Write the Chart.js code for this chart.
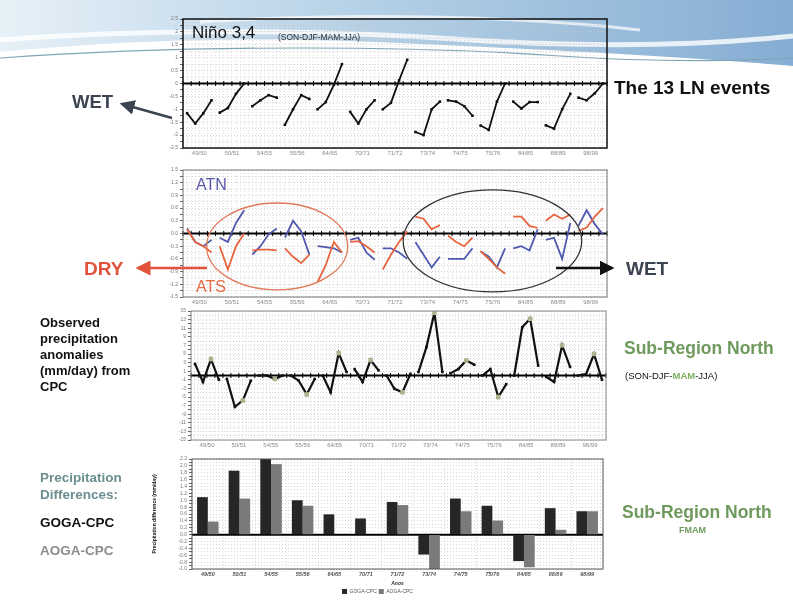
<!DOCTYPE html>
<html>
<head>
<meta charset="utf-8">
<script src="https://cdn.jsdelivr.net/npm/chart.js@4/dist/chart.umd.min.js"></script>
<style>
  body { margin: 0; width: 793px; height: 604px; position: relative; overflow: hidden; background: #fff;
         font-family: "Liberation Sans", Arial, sans-serif; }
  .box { position: absolute; }
  .txt { position: absolute; font-weight: bold; white-space: nowrap; line-height: 1; }
  #banner { position: absolute; left: 0; top: 0; }
  #arrows { position: absolute; left: 0; top: 0; pointer-events: none; }
</style>
</head>
<body>

<!-- decorative slide banner -->
<svg id="banner" width="793" height="90">
  <defs>
    <linearGradient id="bg" x1="0" y1="0" x2="1" y2="0">
      <stop offset="0" stop-color="#e3eef6"/>
      <stop offset="0.45" stop-color="#a9c9e2"/>
      <stop offset="1" stop-color="#6f9fcc"/>
    </linearGradient>
  </defs>
  <path d="M0,0 H793 V66 C700,58 560,50 420,44 C300,38 170,36 0,52 Z" fill="url(#bg)" opacity="0.85"/>
  <path d="M0,40 C150,28 330,30 470,40 C600,48 700,46 793,36" stroke="#fff" stroke-width="5" fill="none" opacity="0.8"/>
  <path d="M200,22 C350,12 520,16 640,30" stroke="#fff" stroke-width="3" fill="none" opacity="0.7"/>
  <path d="M0,58 C200,44 420,46 560,56 C650,62 720,62 793,58" stroke="#7ea6b4" stroke-width="1.2" fill="none"/>
</svg>

<div class="box" style="left:160px;top:14px;width:452px;height:150px"><canvas id="c1"></canvas></div>
<div class="box" style="left:160px;top:165px;width:452px;height:148px"><canvas id="c2"></canvas></div>
<div class="box" style="left:165px;top:305px;width:447px;height:150px"><canvas id="c3"></canvas></div>
<div class="box" style="left:152px;top:452px;width:458px;height:152px"><canvas id="c4"></canvas></div>

<svg id="arrows" width="793" height="604">
  <defs>
    <marker id="hGrey" markerWidth="6" markerHeight="6" refX="5" refY="3" orient="auto"><path d="M0,0 L6,3 L0,6 Z" fill="#3c4452"/></marker>
    <marker id="hRed" markerWidth="6" markerHeight="6" refX="5" refY="3" orient="auto"><path d="M0,0 L6,3 L0,6 Z" fill="#e0533a"/></marker>
    <marker id="hBlack" markerWidth="6" markerHeight="6" refX="5" refY="3" orient="auto"><path d="M0,0 L6,3 L0,6 Z" fill="#111"/></marker>
  </defs>
  <line x1="172" y1="118" x2="122" y2="104" stroke="#3c4452" stroke-width="2.5" marker-end="url(#hGrey)"/>
  <line x1="207" y1="268" x2="138" y2="268" stroke="#e0533a" stroke-width="2.5" marker-end="url(#hRed)"/>
  <line x1="556" y1="268" x2="612" y2="268" stroke="#111" stroke-width="2.5" marker-end="url(#hBlack)"/>
</svg>

<div class="txt" style="left:192px;top:24px;font-size:17px;font-weight:normal;color:#111">Niño 3,4</div>
<div class="txt" style="left:278px;top:33px;font-size:8.5px;font-weight:normal;color:#333">(SON-DJF-MAM-JJA)</div>
<div class="txt" style="left:196px;top:177px;font-size:16px;font-weight:normal;color:#5a5aa8">ATN</div>
<div class="txt" style="left:196px;top:279px;font-size:16px;font-weight:normal;color:#e86a45">ATS</div>

<div class="txt" style="left:72px;top:93px;font-size:18.5px;color:#3c4452">WET</div>
<div class="txt" style="left:84px;top:259px;font-size:19px;color:#e0533a">DRY</div>
<div class="txt" style="left:626px;top:259px;font-size:19px;color:#3c4452">WET</div>
<div class="txt" style="left:614px;top:78px;font-size:19px;color:#111">The 13 LN events</div>

<div class="txt" style="left:40px;top:315px;font-size:13px;line-height:16px;color:#111">Observed<br>precipitation<br>anomalies<br>(mm/day) from<br>CPC</div>
<div class="txt" style="left:40px;top:469px;font-size:13.5px;line-height:17px;color:#6b8f8f">Precipitation<br>Differences:</div>
<div class="txt" style="left:40px;top:516px;font-size:13.5px;color:#111">GOGA-CPC</div>
<div class="txt" style="left:40px;top:544px;font-size:13.5px;color:#8c8c8c">AOGA-CPC</div>

<div class="txt" style="left:624px;top:340px;font-size:17.5px;color:#6f9a5d">Sub-Region North</div>
<div class="txt" style="left:625px;top:371px;font-size:9.5px;font-weight:normal;color:#111">(SON-DJF-<span style="color:#7fb060;font-weight:bold">MAM</span>-JJA)</div>
<div class="txt" style="left:622px;top:504px;font-size:17.5px;color:#6f9a5d">Sub-Region North</div>
<div class="txt" style="left:679px;top:526px;font-size:9px;color:#6f9a5d">FMAM</div>

<script>
// 13 La Niña events, four seasons each (SON, DJF, MAM, JJA)
const events = ["49/50", "50/51", "54/55", "55/56", "64/65", "70/71", "71/72",
                "73/74", "74/75", "75/76", "84/85", "88/89", "98/99"];
const seasons = ["SON", "DJF", "MAM", "JJA"];

// Niño 3.4 index
const nino34 = [-1.15, -1.55, -1.15, -0.65,  -1.13, -0.95, -0.4, 0.0,   -0.88, -0.65, -0.45, -0.55,
                -1.6, -1.0, -0.45, -0.6,     -1.0, -0.72, -0.05, 0.75,  -1.1, -1.55, -1.0, -0.65,
                -1.0, -0.75, 0.12, 0.92,     -1.88, -2.0, -1.0, -0.7,   -0.65, -0.7, -0.88, -1.25,
                -1.63, -1.8, -0.7, 0.0,      -0.7, -0.97, -0.72, -0.72, -1.62, -1.75, -1.0, -0.4,
                -0.55, -0.65, -0.38, 0.0];

// Atlantic north / south SST anomalies
const atn = [0.12, -0.2, -0.3, -0.15,   -0.1, -0.2, 0.25, 0.55,   -0.5, -0.3, -0.02, 0.12,
             -0.1, 0.3, 0.05, -0.5,     -0.3, -0.32, -0.35, -0.45, -0.15, -0.1, -0.45, -0.62,
             -0.35, -0.35, -0.45, -0.6, -0.2, -0.5, -0.8, -0.55,  -0.6, -0.6, -0.6, -0.35,
             -0.42, -0.55, -0.8, -0.35, -0.35, -0.3, -0.4, 0.1,   -0.15, -0.1, -0.6, 0.25,
             0.18, 0.55, 0.22, -0.02];
const ats = [0.1, -0.2, -0.3, -0.45,    -0.3, -0.85, -0.3, 0.0,   -0.4, -0.38, -0.38, -0.4,
             -0.35, -0.55, -0.7, -0.5,  -1.15, -0.75, -0.2, -0.45, -0.2, -0.18, -0.3, -0.45,
             -0.85, -0.5, -0.2, 0.05,   0.4, 0.35, 0.1, 0.2,      -0.05, -0.2, -0.3, -0.1,
             -0.42, -0.6, -0.8, -0.95,  0.4, 0.4, 0.18, 0.13,     0.3, 0.45, 0.35, 0.45,
             0.06, 0.14, 0.4, 0.6];

// observed CPC precipitation anomalies, sub-region north
const cpcAnom = [2.7, -1.5, 3.8, -1.0,   -0.8, -7.3, -5.8, -1.2,  0.0, 0.0, -0.8, 0.0,
                 0.0, -1.2, -4.4, -0.8,  0.0, -3.9, 5.2, 0.8,     1.5, -1.5, 3.6, 1.2,
                 0.0, -3.1, -3.9, 0.4,   0.8, 6.6, 14.6, 0.8,     0.5, 1.5, 3.5, 2.5,
                 0.0, 1.5, -5.0, -2.0,   0.0, 11.2, 13.2, 2.3,    -0.3, -1.5, 7.0, 2.0,
                 0.0, 0.3, 5.0, -1.0];

// FMAM precipitation differences
const gogaCpc = [1.09, 1.86, 2.2, 1.0, 0.59, 0.47, 0.95, -0.58, 1.05, 0.84, -0.77, 0.77, 0.68];
const aogaCpc = [0.38, 1.05, 2.05, 0.84, null, null, 0.86, -1.0, 0.68, 0.41, -0.95, 0.14, 0.68];

Chart.defaults.font.family = "'Liberation Sans', Arial, sans-serif";
Chart.defaults.animation = false;

const toXY = arr => arr.map((v, i) => ({ x: i + 0.5, y: v, season: seasons[i % 4] }));
const steps = (a, b, s) => { const out = []; for (let v = a; v <= b + 1e-9; v += s) out.push({ value: +v.toFixed(3) }); return out; };
const gap = (color) => ({ borderColor: c => (c.p0DataIndex % 4 === 3 ? "rgba(0,0,0,0)" : color) });

const panelDeco = {
  id: "panelDeco",
  beforeDatasetsDraw(chart, args, o) {
    const { ctx, chartArea: a, scales: { x, y } } = chart;
    const y0 = y.getPixelForValue(0);
    ctx.save();
    ctx.strokeStyle = "#000";
    ctx.lineWidth = o.zeroWidth || 2;
    ctx.beginPath(); ctx.moveTo(a.left, y0); ctx.lineTo(a.right, y0); ctx.stroke();
    if (o.slotTicks) {
      ctx.lineWidth = 1;
      ctx.beginPath();
      for (let i = 0; i <= 52; i++) {
        const px = x.getPixelForValue(i);
        ctx.moveTo(px, y0 - 2.5); ctx.lineTo(px, y0 + 2.5);
      }
      ctx.stroke();
    }
    ctx.restore();
  },
  afterDatasetsDraw(chart, args, o) {
    const { ctx, scales: { x, y } } = chart;
    ctx.save();
    (o.ellipses || []).forEach(e => {
      const x0 = x.getPixelForValue(e.x0), x1 = x.getPixelForValue(e.x1);
      const ya = y.getPixelForValue(e.y1), yb = y.getPixelForValue(e.y0);
      ctx.beginPath();
      ctx.ellipse((x0 + x1) / 2, (ya + yb) / 2, (x1 - x0) / 2, (yb - ya) / 2, 0, 0, Math.PI * 2);
      ctx.strokeStyle = e.color; ctx.lineWidth = 1.3; ctx.stroke();
    });
    ctx.restore();
  },
  afterDraw(chart, args, o) {
    const { ctx, chartArea: a } = chart;
    ctx.save();
    ctx.strokeStyle = o.frame || "#555";
    ctx.lineWidth = o.frameWidth || 1;
    ctx.strokeRect(a.left, a.top, a.right - a.left, a.bottom - a.top);
    ctx.restore();
  }
};

const dotted = { color: "#c4c4c4", lineWidth: 0.7, drawTicks: true, tickLength: 3, tickColor: "#222" };

function slotX(h) {
  return {
    type: "linear", min: 0, max: 52,
    afterBuildTicks: s => { s.ticks = steps(0, 52, 0.5); },
    afterFit: s => { s.height = h; },
    ticks: { autoSkip: false, maxRotation: 0, minRotation: 0, padding: 2, font: { size: 6 }, color: "#8a8a8a",
             callback: v => (v % 4 === 2 ? events[(v - 2) / 4] : "") },
    grid: { color: "#c8c8c8", lineWidth: 0.6, drawTicks: false },
    border: { display: false, dash: [1, 2] }
  };
}
function valueY(min, max, gridStep, showLabel, w, fmt) {
  return {
    min, max,
    afterBuildTicks: s => { s.ticks = steps(min, max, gridStep); },
    afterFit: s => { s.width = w; },
    ticks: { autoSkip: false, padding: 2, font: { size: 5 }, color: "#777",
             callback: v => (showLabel(v) ? fmt(v) : "") },
    grid: dotted,
    border: { display: false, dash: [1, 2] }
  };
}
const every = step => v => Math.abs(v / step - Math.round(v / step)) < 1e-6;
const noLegend = { legend: { display: false }, tooltip: { enabled: false } };

// Panel 1: Niño 3.4
new Chart(document.getElementById("c1"), {
  type: "line",
  data: { datasets: [{
    data: toXY(nino34), borderColor: "#111", borderWidth: 1.8, segment: gap("#111"),
    pointStyle: "rect", pointRadius: 1.8, pointBackgroundColor: "#111", pointBorderWidth: 0
  }] },
  options: {
    responsive: true, maintainAspectRatio: false,
    layout: { padding: { top: 4, right: 5, left: 0, bottom: 0 } },
    scales: { x: slotX(16), y: valueY(-2.5, 2.5, 0.25, every(0.5), 23, v => String(v)) },
    plugins: { ...noLegend, panelDeco: { slotTicks: true, zeroWidth: 2, frame: "#111", frameWidth: 1.5 } }
  },
  plugins: [panelDeco]
});

// Panel 2: ATN / ATS
new Chart(document.getElementById("c2"), {
  type: "line",
  data: { datasets: [
    { label: "ATS", data: toXY(ats), borderColor: "#e8643e", borderWidth: 1.8, segment: gap("#e8643e"), pointRadius: 0 },
    { label: "ATN", data: toXY(atn), borderColor: "#5058b0", borderWidth: 1.8, segment: gap("#5058b0"), pointRadius: 0 }
  ] },
  options: {
    responsive: true, maintainAspectRatio: false,
    layout: { padding: { top: 5, right: 5, left: 0, bottom: 0 } },
    scales: { x: slotX(16), y: valueY(-1.5, 1.5, 0.15, every(0.3), 23, v => v.toFixed(1)) },
    plugins: { ...noLegend, panelDeco: {
      slotTicks: true, zeroWidth: 2, frame: "#777",
      ellipses: [ { x0: 2.9, x1: 20.2, y0: -1.33, y1: 0.72, color: "#e07a5a" },
                  { x0: 27.0, x1: 48.9, y0: -1.38, y1: 1.03, color: "#333" } ]
    } }
  },
  plugins: [panelDeco]
});

// Panel 3: observed CPC anomalies (labels on odd values)
new Chart(document.getElementById("c3"), {
  type: "line",
  data: { datasets: [{
    data: toXY(cpcAnom), borderColor: "#111", borderWidth: 2.2, segment: gap("#111"),
    pointStyle: "rect",
    pointRadius: c => (c.raw && c.raw.season === "MAM" ? 3.2 : 1.8),
    pointBackgroundColor: c => (c.raw && c.raw.season === "MAM" ? "#a9b58f" : "#111"),
    pointBorderWidth: 0
  }] },
  options: {
    responsive: true, maintainAspectRatio: false,
    layout: { padding: { top: 6, right: 6, left: 0, bottom: 0 } },
    scales: { x: slotX(15), y: valueY(-15, 15, 1, v => Math.abs(Math.round(v)) % 2 === 1, 26, v => String(v)) },
    plugins: { ...noLegend, panelDeco: { slotTicks: true, zeroWidth: 2.2, frame: "#888" } }
  },
  plugins: [panelDeco]
});

// Panel 4: precipitation differences (bars)
new Chart(document.getElementById("c4"), {
  type: "bar",
  data: { labels: events, datasets: [
    { label: "GOGA-CPC", data: gogaCpc, backgroundColor: "#262626" },
    { label: "AOGA-CPC", data: aogaCpc, backgroundColor: "#7a7a7a" }
  ] },
  options: {
    responsive: true, maintainAspectRatio: false,
    categoryPercentage: 0.68, barPercentage: 1,
    layout: { padding: { top: 7, right: 7, left: 0, bottom: 0 } },
    scales: {
      x: { afterFit: s => { s.height = 18; },
           ticks: { maxRotation: 0, minRotation: 0, padding: 2, font: { size: 5.5, weight: "bold", style: "italic" }, color: "#555" },
           grid: { color: "#c8c8c8", lineWidth: 0.6, drawTicks: false },
           border: { display: false, dash: [1, 2] },
           title: { display: true, text: "Anos", font: { size: 5, weight: "bold", style: "italic" }, color: "#333", padding: 0 } },
      y: { ...valueY(-1.0, 2.2, 0.1, every(0.2), 40, v => v.toFixed(1)),
           title: { display: true, text: "Precipitation difference (mm/day)", font: { size: 5, weight: "bold" }, color: "#111", padding: 0 } }
    },
    plugins: {
      legend: { display: true, position: "bottom",
                labels: { font: { size: 5 }, boxWidth: 5, boxHeight: 5, padding: 2, color: "#555" } },
      tooltip: { enabled: false },
      panelDeco: { slotTicks: false, zeroWidth: 2, frame: "#555" }
    }
  },
  plugins: [panelDeco]
});
</script>
</body>
</html>
